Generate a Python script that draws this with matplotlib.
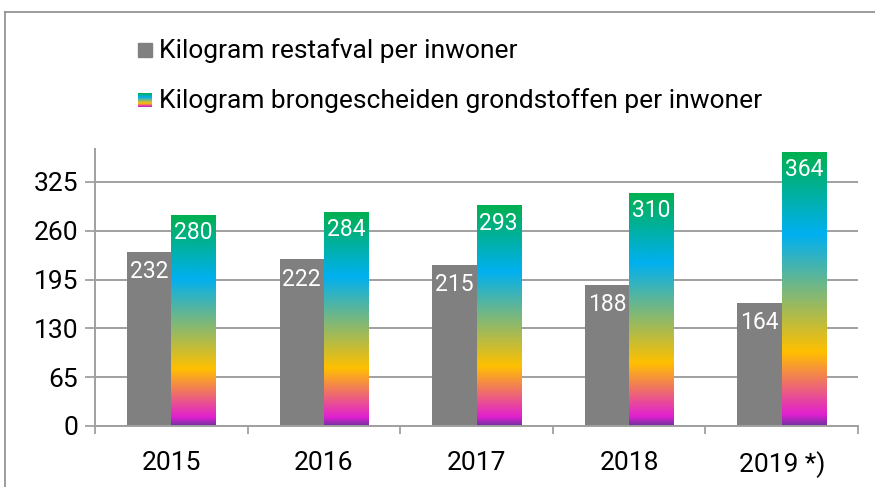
import matplotlib.pyplot as plt
import numpy as np
from matplotlib.colors import LinearSegmentedColormap
from matplotlib.lines import Line2D
from matplotlib.patches import Rectangle

plt.rcParams['font.family'] = ['Roboto', 'DejaVu Sans']

jaren = ['2015', '2016', '2017', '2018', '2019 *)']
restafval = [232, 222, 215, 188, 164]
grondstoffen = [280, 284, 293, 310, 364]
yticks = [0, 65, 130, 195, 260, 325]

# kleurverloop van onder naar boven
regenboog = LinearSegmentedColormap.from_list('regenboog', [
    (0.0, '#7030A0'), (0.04, '#E020D0'), (0.27, '#FFC000'),
    (0.70, '#00B0F0'), (1.0, '#00B050')])
grad = np.linspace(0, 1, 256).reshape(-1, 1)

fig = plt.figure(figsize=(8.75, 4.87), dpi=100)
ax = fig.add_axes([0.1086, 0.1253, 0.872, 0.569])

x = np.arange(len(jaren))
w = 0.29
ax.bar(x - w / 2, restafval, w, color='#808080', zorder=2)
for xi, h in zip(x, grondstoffen):
    ax.imshow(grad, cmap=regenboog, origin='lower', aspect='auto',
              extent=(xi, xi + w, 0, h), zorder=2)

for xi, v in zip(x, restafval):
    ax.annotate(str(v), (xi - w / 2, v), xytext=(0, -6), textcoords='offset points',
                ha='center', va='top', color='white', fontsize=16.5, zorder=3)
for xi, v in zip(x, grondstoffen):
    ax.annotate(str(v), (xi + w / 2, v), xytext=(0, -4), textcoords='offset points',
                ha='center', va='top', color='white', fontsize=16.5, zorder=3)

ax.set_xlim(-0.5, len(jaren) - 0.5)
ax.set_ylim(0, 369)
ax.set_yticks(yticks)
ax.set_yticklabels([str(t) for t in yticks], fontsize=19)
ax.set_xticks(x)
ax.set_xticklabels(jaren, fontsize=19)
ax.set_xticks(np.arange(len(jaren) + 1) - 0.5, minor=True)
ax.tick_params(axis='x', which='major', length=0, pad=18)
ax.tick_params(axis='x', which='minor', length=6, width=1.3, color='#A0A0A0')
ax.tick_params(axis='y', length=7, width=1.3, color='#A0A0A0', pad=5)
ax.grid(axis='y', color='#A0A0A0', linewidth=1.4, zorder=0)
for s in ['top', 'right']:
    ax.spines[s].set_visible(False)
for s in ['left', 'bottom']:
    ax.spines[s].set_color('#A0A0A0')
    ax.spines[s].set_linewidth(1.4)

# kader van het grafiekgebied
fig.add_artist(Line2D([0.0057, 0.0057], [0, 0.975], color='#8C8C8C', lw=1.2))
fig.add_artist(Line2D([0.0057, 1.0], [0.975, 0.975], color='#8C8C8C', lw=1.2))

# legenda
fig.add_artist(Rectangle((138 / 875, 1 - 57 / 487), 14 / 875, 14 / 487,
                         color='#808080', transform=fig.transFigure))
lax = fig.add_axes([138 / 875, 1 - 107 / 487, 14 / 875, 14 / 487])
lax.imshow(grad, cmap=regenboog, origin='lower', aspect='auto')
lax.axis('off')
fig.text(159 / 875, 1 - 51 / 487, 'Kilogram restafval per inwoner',
         fontsize=19, va='center')
fig.text(159 / 875, 1 - 101 / 487, 'Kilogram brongescheiden grondstoffen per inwoner',
         fontsize=19, va='center')

fig.savefig('out.png', dpi=100)
